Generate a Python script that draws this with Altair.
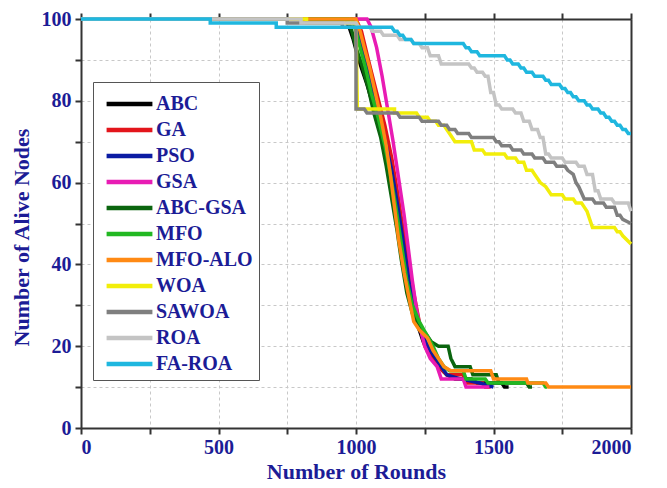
import altair as alt
import pandas as pd

SERIES = ["ABC", "GA", "PSO", "GSA", "ABC-GSA", "MFO", "MFO-ALO", "WOA", "SAWOA", "ROA", "FA-ROA"]
COLORS = ["#000000", "#e3151b", "#0b1ca3", "#e81cb4", "#0b650f", "#22b822", "#ff8a14",
          "#f2ee0a", "#7f7f7f", "#c4c4c4", "#1fb7df"]

ABC_x = [0, 960, 975, 990, 1010, 1040, 1070, 1100, 1130, 1150, 1165, 1180, 1200, 1220, 1245, 1270, 1300, 1330, 1360, 1420, 1440, 1530, 1540, 1555]
ABC_y = [100, 100, 98, 95, 90, 84, 77, 70, 63, 55, 47, 40, 32, 26, 21, 18, 15, 13, 12, 12, 11, 11, 10, 10]

GA_x = [0, 1000, 1020, 1045, 1075, 1105, 1130, 1150, 1170, 1190, 1210, 1230, 1250, 1275, 1300, 1330, 1390, 1400, 1460, 1470, 1490]
GA_y = [100, 100, 97, 90, 82, 74, 66, 58, 49, 41, 33, 26, 20, 17, 15, 13, 13, 11, 11, 10, 10]

PSO_x = [0, 990, 1010, 1040, 1070, 1100, 1130, 1155, 1175, 1195, 1215, 1240, 1270, 1300, 1330, 1380, 1450, 1500]
PSO_y = [100, 100, 96, 88, 80, 72, 63, 53, 44, 35, 28, 23, 19, 16, 13, 12, 11, 10]

GSA_x = [0, 1040, 1055, 1075, 1095, 1115, 1135, 1155, 1175, 1190, 1205, 1220, 1235, 1250, 1270, 1295, 1310, 1390, 1400, 1485]
GSA_y = [100, 100, 98, 93, 86, 78, 70, 61, 52, 44, 36, 29, 24, 20, 17, 15, 12, 12, 10, 10]

ABCGSA_x = [0, 970, 985, 1000, 1020, 1045, 1065, 1090, 1110, 1130, 1150, 1165, 1185, 1205, 1230, 1255, 1275, 1300, 1335, 1345, 1360, 1365, 1415, 1425, 1510, 1520, 1620, 1630, 1640]
ABCGSA_y = [100, 100, 97, 93, 89, 83, 77, 71, 64, 56, 48, 41, 33, 28, 25, 23, 21, 20, 20, 17, 15, 15, 15, 13, 13, 11, 11, 10, 10]

MFO_x = [0, 985, 1000, 1015, 1035, 1055, 1080, 1105, 1125, 1145, 1165, 1185, 1205, 1230, 1255, 1280, 1300, 1320, 1340, 1390, 1400, 1470, 1480, 1680, 1690, 1695]
MFO_y = [100, 100, 97, 93, 88, 82, 76, 69, 62, 54, 45, 36, 30, 26, 23, 20, 17, 15, 14, 14, 12, 12, 11, 11, 10, 10]

MFOALO_x = [0, 1000, 1015, 1030, 1050, 1070, 1090, 1110, 1125, 1140, 1155, 1175, 1195, 1210, 1230, 1260, 1280, 1300, 1320, 1345, 1490, 1500, 1620, 1625, 1690, 1700, 2000]
MFOALO_y = [100, 100, 97, 93, 88, 82, 76, 69, 62, 54, 46, 38, 31, 26, 24, 22, 19, 17, 15, 14, 14, 12, 12, 11, 11, 10, 10]

WOA_x = [0, 820, 820, 1000, 1005, 1100, 1100, 1140, 1140, 1220, 1230, 1260, 1270, 1290, 1300, 1320, 1330, 1340, 1360, 1420, 1430, 1460, 1470, 1500, 1540, 1550, 1580, 1590, 1610, 1620, 1640, 1650, 1660, 1670, 1690, 1700, 1710, 1750, 1760, 1790, 1800, 1820, 1830, 1840, 1860, 1940, 1950, 1960, 1970, 2000]
WOA_y = [100, 100, 99, 99, 78, 78, 78, 78, 77, 77, 76, 76, 75, 75, 74, 74, 73, 72, 70, 70, 68, 68, 67, 67, 67, 66, 66, 65, 65, 63, 63, 62, 61, 60, 59, 58, 57, 57, 56, 56, 55, 55, 54, 53, 49, 49, 48, 48, 47, 45]

SAWOA_x = [0, 750, 750, 950, 950, 1000, 1000, 1030, 1040, 1150, 1160, 1230, 1240, 1300, 1310, 1330, 1340, 1360, 1370, 1410, 1420, 1500, 1510, 1520, 1530, 1560, 1570, 1600, 1610, 1640, 1650, 1680, 1690, 1720, 1730, 1760, 1770, 1790, 1800, 1810, 1830, 1860, 1870, 1900, 1910, 1940, 1950, 1960, 1970, 2000]
SAWOA_y = [100, 100, 99, 99, 98, 98, 78, 78, 77, 77, 76, 76, 75, 75, 74, 74, 73, 73, 72, 72, 71, 71, 70, 70, 69, 69, 68, 68, 67, 67, 66, 66, 65, 65, 64, 64, 63, 62, 60, 59, 56, 56, 55, 55, 54, 54, 52, 52, 51, 50]

ROA_x = [0, 800, 800, 1000, 1010, 1050, 1060, 1090, 1100, 1150, 1160, 1200, 1210, 1230, 1240, 1260, 1270, 1300, 1310, 1410, 1420, 1430, 1440, 1460, 1470, 1480, 1490, 1500, 1510, 1520, 1530, 1570, 1580, 1600, 1610, 1630, 1640, 1660, 1670, 1680, 1690, 1700, 1710, 1750, 1760, 1800, 1810, 1830, 1840, 1860, 1870, 1880, 1890, 1930, 1940, 1990, 2000]
ROA_y = [100, 100, 99, 99, 98, 98, 97, 97, 96, 96, 95, 95, 94, 94, 93, 93, 91, 91, 89, 89, 88, 88, 87, 87, 86, 86, 82, 82, 79, 79, 78, 78, 77, 77, 75, 75, 73, 73, 71, 71, 67, 67, 66, 66, 65, 65, 64, 64, 62, 62, 58, 58, 56, 56, 55, 55, 53]

FAROA_x = [0, 470, 470, 710, 710, 1130, 1140, 1150, 1160, 1170, 1180, 1200, 1210, 1260, 1270, 1390, 1400, 1410, 1420, 1440, 1450, 1540, 1550, 1560, 1570, 1590, 1600, 1610, 1620, 1640, 1650, 1680, 1690, 1700, 1710, 1740, 1750, 1760, 1770, 1780, 1790, 1800, 1810, 1830, 1840, 1850, 1860, 1880, 1890, 1900, 1910, 1920, 1930, 1940, 1950, 1960, 1970, 1980, 1990, 2000]
FAROA_y = [100, 100, 99, 99, 98, 98, 97, 97, 96, 96, 95, 95, 94, 94, 94, 94, 93, 93, 92, 92, 91, 91, 90, 90, 89, 89, 88, 88, 87, 87, 86, 86, 85, 85, 84, 84, 83, 83, 82, 82, 81, 81, 80, 80, 79, 79, 78, 78, 77, 77, 76, 76, 75, 75, 74, 74, 73, 73, 72, 72]

XS = [ABC_x, GA_x, PSO_x, GSA_x, ABCGSA_x, MFO_x, MFOALO_x, WOA_x, SAWOA_x, ROA_x, FAROA_x]
YS = [ABC_y, GA_y, PSO_y, GSA_y, ABCGSA_y, MFO_y, MFOALO_y, WOA_y, SAWOA_y, ROA_y, FAROA_y]

rows = []
for k, (name, xs, ys) in enumerate(zip(SERIES, XS, YS)):
    for i, (x, y) in enumerate(zip(xs, ys)):
        rows.append({"Algorithm": name, "Round": x, "Alive": y, "s": k, "i": i})
df = pd.DataFrame(rows)

NAVY = "#1c1c96"
FONT = "Liberation Serif"
xvals = list(range(0, 2001, 250))
yvals = list(range(0, 101, 10))

xscale = alt.Scale(domain=[0, 2000], nice=False, zero=False)
yscale = alt.Scale(domain=[0, 100], nice=False)

lines = alt.Chart(df).mark_line(strokeWidth=3.5, strokeJoin="miter", clip=False).encode(
    x=alt.X("Round:Q", scale=xscale, axis=alt.Axis(
        values=xvals, title="Number of Rounds", format="d",
        labelExpr="datum.value % 500 == 0 ? datum.label : ''",
        grid=True, gridColor="#c8c8c8", gridDash=[3, 3], gridWidth=1,
        domainColor="#333333", domainWidth=2, tickColor="#333333", tickWidth=2, tickSize=6,
        labelFont=FONT, labelFontSize=20, labelFontWeight="bold", labelColor=NAVY, labelPadding=3,
        titleFont=FONT, titleFontSize=22, titleFontWeight="bold", titleColor=NAVY, titlePadding=4)),
    y=alt.Y("Alive:Q", scale=yscale, axis=alt.Axis(
        values=yvals, title="Number of Alive Nodes", format="d",
        labelExpr="datum.value % 20 == 0 ? datum.label : ''",
        grid=True, gridColor="#c8c8c8", gridDash=[3, 3], gridWidth=1,
        domainColor="#333333", domainWidth=2, tickColor="#333333", tickWidth=2, tickSize=6,
        labelFont=FONT, labelFontSize=20, labelFontWeight="bold", labelColor=NAVY, labelPadding=4,
        titleFont=FONT, titleFontSize=22, titleFontWeight="bold", titleColor=NAVY, titleY=218, titlePadding=8)),
    color=alt.Color("Algorithm:N", scale=alt.Scale(domain=SERIES, range=COLORS), sort=SERIES,
                    legend=alt.Legend(
                        title=" ", titleFontSize=4, titlePadding=4,
                        orient="none", legendX=12, legendY=63,
                        symbolType="stroke", symbolSize=2100, symbolStrokeWidth=4.5,
                        symbolOffset=5, clipHeight=16, rowPadding=6, labelOffset=1,
                        labelFont=FONT, labelFontSize=20, labelFontWeight="bold", labelColor=NAVY,
                        fillColor="white", strokeColor="#555555", padding=6)),
    detail="s:N",
    order="i:Q",
)

mirror = alt.Chart(df).mark_line(opacity=0).encode(
    x=alt.X("Round:Q", scale=xscale, axis=alt.Axis(
        orient="top", values=xvals, labels=False, title=None, grid=False,
        domainColor="#333333", domainWidth=2, tickColor="#333333", tickWidth=2, tickSize=6)),
    y=alt.Y("Alive:Q", scale=yscale, axis=alt.Axis(
        orient="right", values=[], labels=False, title=None, grid=False,
        domainColor="#333333", domainWidth=2, ticks=False)),
    detail="s:N",
)

chart = alt.layer(lines, mirror).resolve_axis(x="independent", y="independent").properties(
    width=550, height=409,
    autosize=alt.AutoSizeParams(type="none"),
    padding={"left": 81, "top": 19, "right": 36, "bottom": 60},
).configure_view(stroke=None).configure(background="white")

chart.save("out.html", embed_options={"renderer": "svg", "actions": False})
